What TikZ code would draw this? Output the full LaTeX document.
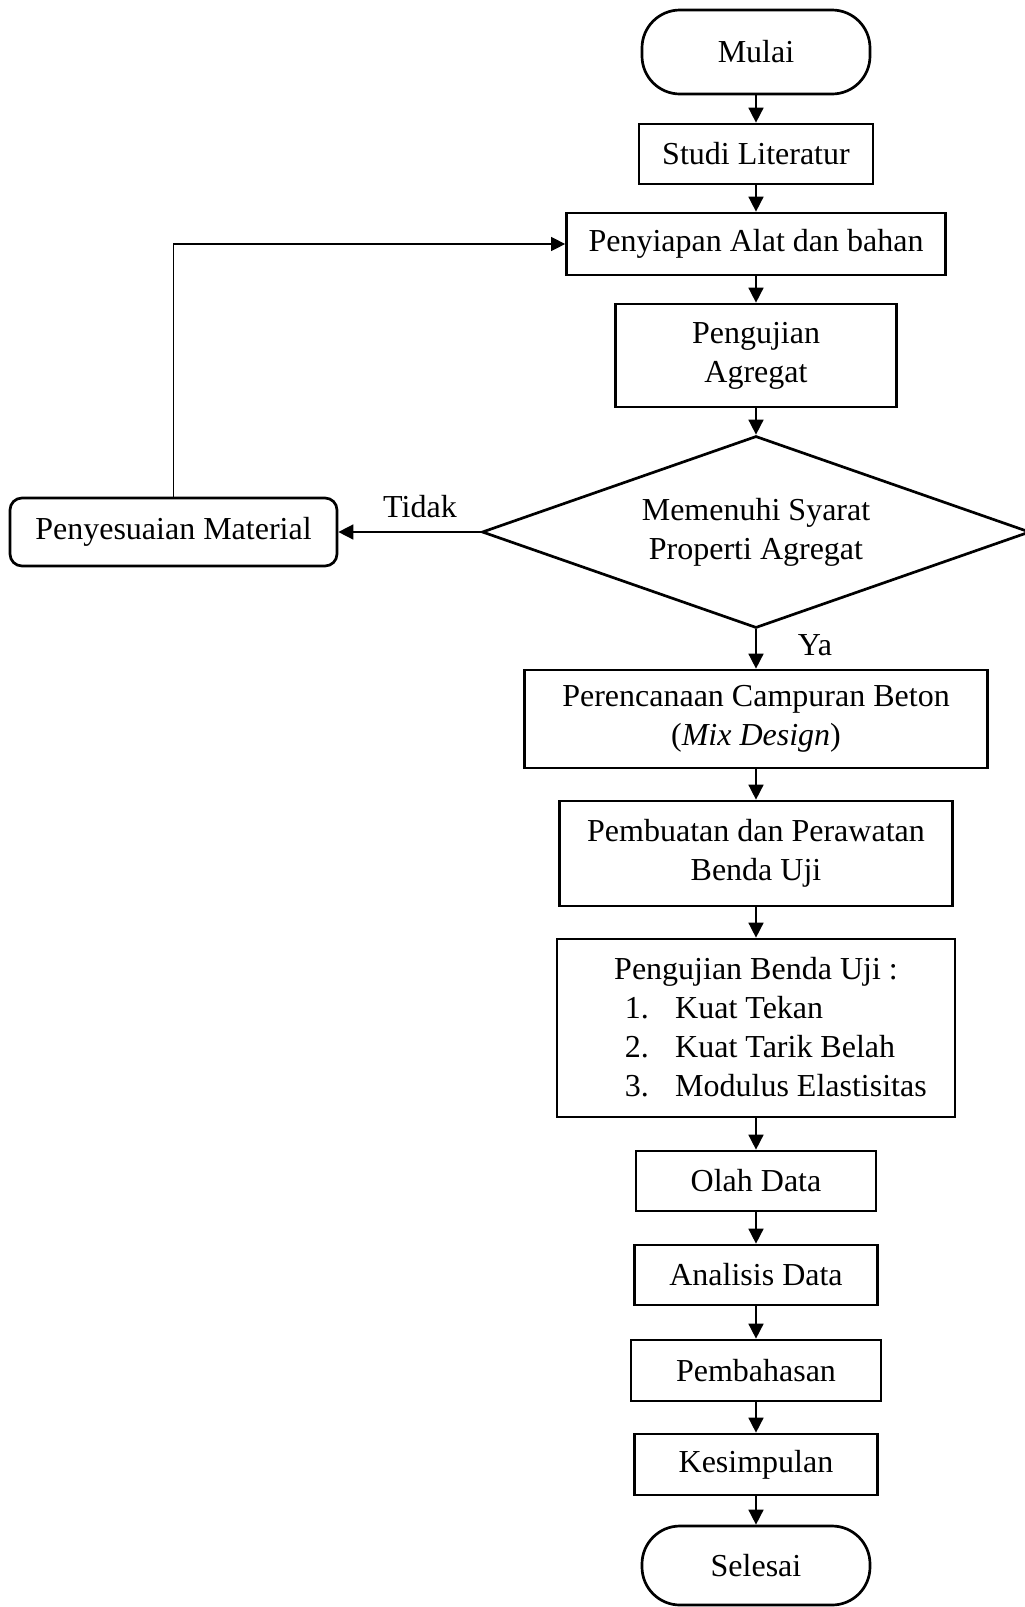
\documentclass[tikz,border=0pt]{standalone}
\usepackage{fontspec}
\setmainfont{Liberation Serif}
\usetikzlibrary{arrows.meta,shapes.geometric}
\begin{document}
\begin{tikzpicture}[x=1pt,y=-1pt,
  every node/.style={font=\fontsize{32}{39}\selectfont},
  box/.style={draw,line width=2.7pt,inner sep=0pt,align=center},
  term/.style={box,rounded corners=38pt},
  soft/.style={box,rounded corners=12pt},
  dec/.style={draw,diamond,aspect=2.854,line width=2.7pt,inner sep=0pt,align=center},
  arr/.style={line width=1.6pt,-{Triangle[width=15pt,length=15pt]}},
  fb/.style={line width=1.2pt,-{Triangle[width=14pt,length=14pt]}},
  lbl/.style={anchor=base,inner sep=0pt}]
\useasboundingbox (0,0) rectangle (1025,1607);
\node[term,minimum width=228pt,minimum height=84pt] (mulai) at (756,52) {Mulai};
\node[box,minimum width=234pt,minimum height=60pt] (studi) at (756,154) {Studi Literatur};
\node[box,minimum width=379pt,minimum height=62pt] (siap) at (756,244) {Penyiapan Alat dan bahan};
\node[box,minimum width=281pt,minimum height=103pt] (agr) at (756,355.5) {Pengujian\\Agregat};
\node[dec,minimum width=548pt,minimum height=192pt] (dia) at (756,532) {Memenuhi Syarat\\Properti Agregat};
\node[soft,minimum width=327pt,minimum height=68pt] (pm) at (173.5,532) {Penyesuaian Material};
\node[box,minimum width=463pt,minimum height=98pt] (mix) at (756,719) {Perencanaan Campuran Beton\\(\textit{Mix Design})};
\node[box,minimum width=393pt,minimum height=105pt] (buat) at (756,853.5) {Pembuatan dan Perawatan\\Benda Uji};
\node[box,minimum width=398pt,minimum height=178pt] (uji) at (756,1028) {};
\node[lbl] (ujit) at (756,979) {Pengujian Benda Uji :};
\node[lbl,anchor=base east] (n1) at (649,1018) {1.};
\node[lbl,anchor=base east] (n2) at (649,1057) {2.};
\node[lbl,anchor=base east] (n3) at (649,1096) {3.};
\node[lbl,anchor=base west] (i1) at (675,1018) {Kuat Tekan};
\node[lbl,anchor=base west] (i2) at (675,1057) {Kuat Tarik Belah};
\node[lbl,anchor=base west] (i3) at (675,1096) {Modulus Elastisitas};
\node[box,minimum width=240pt,minimum height=60pt] (olah) at (756,1181) {Olah Data};
\node[box,minimum width=243pt,minimum height=60pt] (anal) at (756,1275) {Analisis Data};
\node[box,minimum width=250pt,minimum height=61pt] (bahas) at (756,1370.5) {Pembahasan};
\node[box,minimum width=243pt,minimum height=61pt] (simp) at (756,1464.5) {Kesimpulan};
\node[term,minimum width=228pt,minimum height=79pt] (selesai) at (756,1565.5) {Selesai};
\node[lbl] (tidak) at (420,517) {Tidak};
\node[lbl] (ya) at (815,655) {Ya};
\draw[arr] (mulai) -- (studi);
\draw[arr] (studi) -- (siap);
\draw[arr] (siap) -- (agr);
\draw[arr] (agr) -- (dia);
\draw[arr] (dia.west) -- (pm.east);
\draw[fb] (pm.north) |- (siap.west);
\draw[arr] (dia.south) -- (mix);
\draw[arr] (mix) -- (buat);
\draw[arr] (buat) -- (uji);
\draw[arr] (uji) -- (olah);
\draw[arr] (olah) -- (anal);
\draw[arr] (anal) -- (bahas);
\draw[arr] (bahas) -- (simp);
\draw[arr] (simp) -- (selesai);
\end{tikzpicture}
\end{document}
